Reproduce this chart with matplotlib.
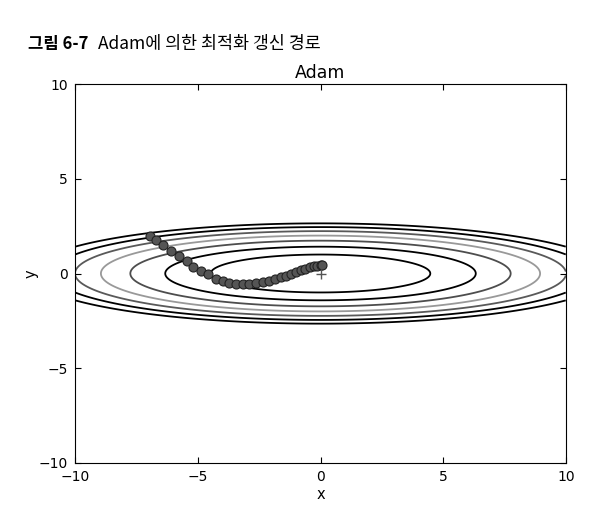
import numpy as np
import matplotlib
matplotlib.use("Agg")
from matplotlib import pyplot as plt

# Adam update path (x, y)
path_x = [-6.95, -6.70, -6.40, -6.08, -5.75, -5.45, -5.18, -4.88, -4.58, -4.26,
          -3.98, -3.71, -3.44, -3.17, -2.90, -2.63, -2.35, -2.09, -1.84, -1.62,
          -1.41, -1.19, -1.00, -0.81, -0.62, -0.43, -0.26, -0.13, 0.01, 0.05]
path_y = [2.00, 1.78, 1.50, 1.19, 0.93, 0.65, 0.36, 0.13, -0.04, -0.28,
          -0.41, -0.50, -0.56, -0.57, -0.56, -0.52, -0.47, -0.40, -0.31, -0.20,
          -0.12, -0.01, 0.08, 0.17, 0.24, 0.33, 0.38, 0.41, 0.45, 0.45]

# contour levels of f(x, y) = x^2/20 + y^2 and their printed grey shades
levels = [1, 2, 3, 4, 5, 6, 7]
level_colors = ['black', 'black', '0.3', '0.6', '0.35', 'black', 'black']


def f(x, y):
    return x**2 / 20.0 + y**2


fig = plt.figure(figsize=(6.16, 5.22), dpi=100)
ax = fig.add_axes([75/616, 1 - 463/522, 491/616, 379/522])

xs = np.arange(-10, 10, 0.01)
ys = np.arange(-10, 10, 0.01)
X, Y = np.meshgrid(xs, ys)
Z = f(X, Y)
ax.contour(X, Y, Z, levels=levels, colors=level_colors, linewidths=1.3)

ax.plot(path_x, path_y, 'o-', color='#555555', markeredgecolor='#222222',
        markersize=6.5, markeredgewidth=0.8, linewidth=1)
ax.plot(0, 0, '+', color='#555555', markersize=7)

ax.set_xlim(-10, 10)
ax.set_ylim(-10, 10)
ax.set_xticks([-10, -5, 0, 5, 10])
ax.set_yticks([-10, -5, 0, 5, 10])
ax.set_xticklabels(['\u221210', '\u22125', '0', '5', '10'])
ax.set_yticklabels(['\u221210', '\u22125', '0', '5', '10'])
ax.tick_params(direction='in', top=True, right=True, length=4, labelsize=10, pad=5)
ax.set_xlabel('x', fontsize=10.5, labelpad=2)
ax.set_ylabel('y', fontsize=10.5, labelpad=0)
ax.set_title('Adam', fontsize=12.5, pad=4)

fig.text(28/616, 1 - 44/522, '그림 6-7', family=['Noto Sans CJK KR', 'DejaVu Sans'],
         fontsize=12, fontweight='bold', va='center', ha='left')
fig.text(98/616, 1 - 44/522, 'Adam에 의한 최적화 갱신 경로',
         family=['Noto Sans CJK KR', 'DejaVu Sans'],
         fontsize=12.5, va='center', ha='left')

fig.savefig('out.png', dpi=100)
